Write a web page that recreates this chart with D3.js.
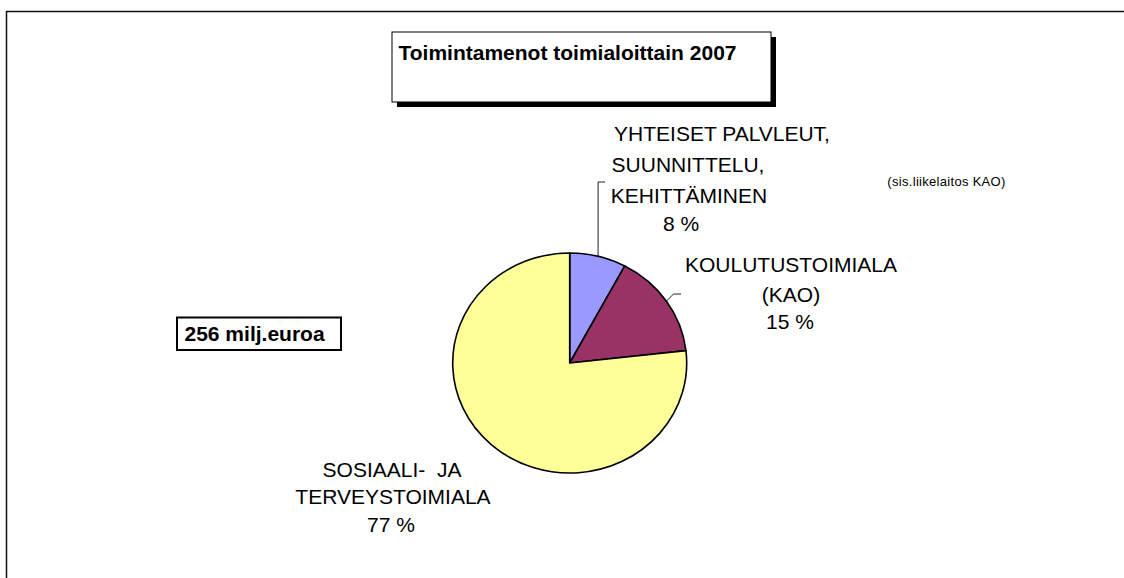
<!DOCTYPE html>
<html>
<head>
<meta charset="utf-8">
<script src="https://cdn.jsdelivr.net/npm/d3@7"></script>
<style>
  html, body { margin: 0; padding: 0; background: #fff; }
  svg { display: block; font-family: "Liberation Sans", Arial, sans-serif; }
  text { white-space: pre; }
</style>
</head>
<body>
<svg id="chart" width="1124" height="578"></svg>
<script>
// ---- data ----
const categories = ["YHTEISET PALVLEUT, SUUNNITTELU, KEHITTÄMINEN", "KOULUTUSTOIMIALA (KAO)", "SOSIAALI-  JA TERVEYSTOIMIALA"];
const labelLines = [
  ["YHTEISET PALVLEUT,", "SUUNNITTELU,", "KEHITTÄMINEN"],
  ["KOULUTUSTOIMIALA", "(KAO)"],
  ["SOSIAALI-  JA", "TERVEYSTOIMIALA"]
];
const values = [7.8, 15.4, 76.8];   // share of operating costs, %
const colors = ["#9999FF", "#993366", "#FFFF99"];
const titleText = "Toimintamenot toimialoittain 2007";
const totalText = "256 milj.euroa";
const noteText = "(sis.liikelaitos KAO)";

// ---- layout ----
const svg = d3.select("#chart");
const cx = 569.7, cy = 363, rx = 117, ry = 110;

// outer frame (extends beyond the picture on right/bottom)
svg.append("rect").attr("x", 6.5).attr("y", 11.5).attr("width", 1130).attr("height", 580)
  .attr("fill", "none").attr("stroke", "#111").attr("stroke-width", 1.5);

// title box with shadow
svg.append("rect").attr("x", 397).attr("y", 37).attr("width", 379).attr("height", 70).attr("fill", "#000");
svg.append("rect").attr("x", 392).attr("y", 32).attr("width", 379).attr("height", 70)
  .attr("fill", "#fff").attr("stroke", "#000").attr("stroke-width", 1);
svg.append("text").attr("x", 398.5).attr("y", 59.5).attr("font-size", 21).attr("font-weight", "bold")
  .attr("fill", "#000").text(titleText);

// total box
svg.append("rect").attr("x", 177).attr("y", 317.5).attr("width", 164).attr("height", 32.5)
  .attr("fill", "#fff").attr("stroke", "#000").attr("stroke-width", 2);
svg.append("text").attr("x", 184.5).attr("y", 340.7).attr("font-size", 21).attr("font-weight", "bold")
  .attr("fill", "#000").text(totalText);

// note
svg.append("text").attr("x", 946.5).attr("y", 186).attr("font-size", 13).attr("letter-spacing", 0.3)
  .attr("text-anchor", "middle").attr("fill", "#000").text(noteText);

// pie
const total = d3.sum(values);
const pie = d3.pie().sort(null).value(d => d)(values);
const arc = d3.arc().innerRadius(0).outerRadius(ry);
const sx = rx / ry;
const g = svg.append("g").attr("transform", `translate(${cx},${cy}) scale(${sx},1)`);
g.selectAll("path").data(pie).join("path")
  .attr("d", arc)
  .attr("fill", (d, i) => colors[i])
  .attr("stroke", "#000")
  .attr("stroke-width", 1.6)
  .attr("stroke-linejoin", "round")
  .attr("vector-effect", "non-scaling-stroke");

// edge point of a slice at its mid-angle
function edgePoint(d) {
  const a = (d.startAngle + d.endAngle) / 2;
  return [cx + rx * Math.sin(a), cy - ry * Math.cos(a)];
}

const pct = d3.format(".0f");
// label placement (layout only)
const labelPos = [
  { centers: [722, 688, 689, 681], baselines: [141, 172, 203, 231] },
  { centers: [791, 791, 790], baselines: [272, 302, 329] },
  { centers: [392, 393, 391], baselines: [477, 504, 532] }
];
const leaderEnds = [
  [[null, 182], [605, 182]],   // vertical up then right
  [[673.5, 294], [681, 294]],
  null
];

pie.forEach((d, i) => {
  const lines = labelLines[i].concat([pct(d.value / total * 100) + " %"]);
  const pos = labelPos[i];
  lines.forEach((ln, j) => {
    svg.append("text")
      .attr("x", pos.centers[j]).attr("y", pos.baselines[j])
      .attr("font-size", 21).attr("text-anchor", "middle").attr("fill", "#000")
      .text(ln);
  });
  if (leaderEnds[i]) {
    const p0 = edgePoint(d);
    const pts = [p0].concat(leaderEnds[i].map(p => [p[0] === null ? p0[0] : p[0], p[1]]));
    svg.append("path")
      .attr("d", d3.line()(pts))
      .attr("fill", "none").attr("stroke", "#222").attr("stroke-width", 1);
  }
});
</script>
</body>
</html>
